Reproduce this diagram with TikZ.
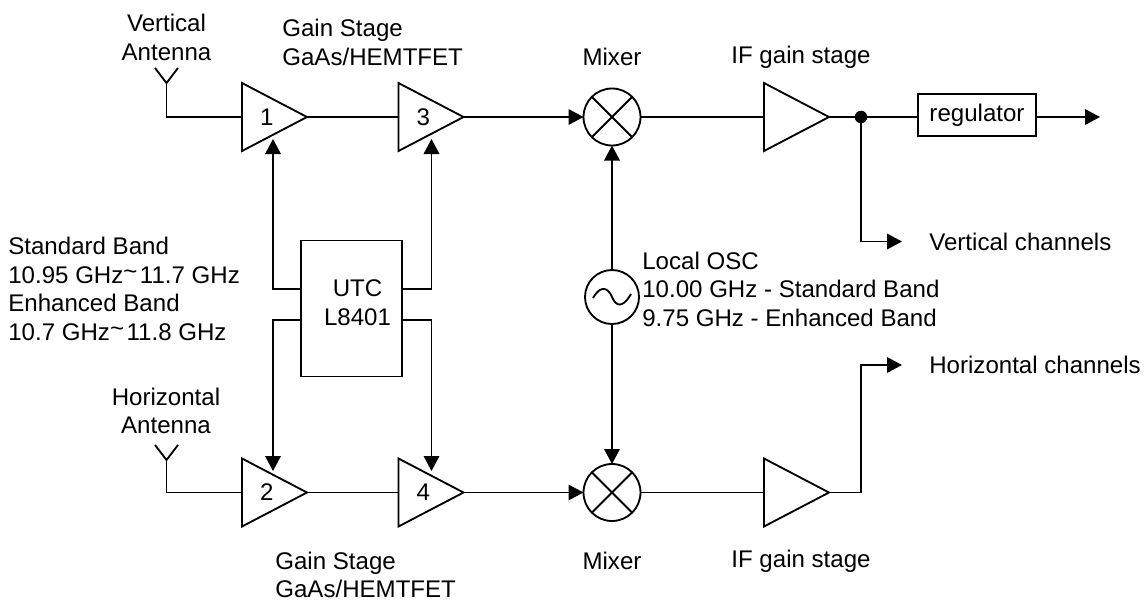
\documentclass[tikz,border=0pt]{standalone}
\usepackage{fontspec}
\setmainfont{Liberation Sans}
\usepackage{tikz}
\usetikzlibrary{arrows.meta, positioning, shapes.geometric, calc}
\newcommand{\bandtilde}{\raisebox{0.08cm}{\textasciitilde}\kern0.05cm}
\tikzset{
  wire/.style={line width=1.05pt,black},
  sigarrow/.style={wire,-{Triangle[length=3mm,width=3.1mm]}},
  lbltext/.style={inner sep=0pt,font=\fontsize{13.7}{16.2}\selectfont,align=left},
  ampnode/.style={draw,wire,isosceles triangle,isosceles triangle stretches,shape border rotate=0,minimum width=1.36cm,minimum height=1.30cm,inner sep=0pt,outer sep=0pt,anchor=lower side,font=\fontsize{13.7}{16.2}\selectfont},
  mixnode/.style={draw,wire,circle,minimum size=1.14cm,inner sep=0pt,outer sep=0pt,path picture={
    \draw[wire] (path picture bounding box.north west) -- (path picture bounding box.south east);
    \draw[wire] (path picture bounding box.north east) -- (path picture bounding box.south west);}},
  oscnode/.style={draw,wire,circle,minimum size=1.08cm,inner sep=0pt,outer sep=0pt,path picture={
    \draw[wire] (-0.38,-0.02) .. controls (-0.18,0.32) and (-0.04,0.10) .. (0,0) .. controls (0.06,-0.14) and (0.18,-0.28) .. (0.38,0.06);}},
  boxnode/.style={draw,wire,rectangle,inner sep=0pt,outer sep=0pt,font=\fontsize{13.7}{16.2}\selectfont,align=center},
  dotnode/.style={circle,fill=black,minimum size=0.25cm,inner sep=0pt,outer sep=0pt},
}
\begin{document}
\begin{tikzpicture}
  \useasboundingbox (0,0) rectangle (22.94,-12.06);
  % upper row
  \node[ampnode] (nAmpA) at (4.84,-2.34) {\hspace*{0.2cm}1};
  \node[ampnode] (nAmpC) at (7.97,-2.34) {\hspace*{0.2cm}3};
  \node[mixnode] (nMixV) at (12.24,-2.34) {};
  \node[ampnode] (nIfV) at (15.28,-2.34) {};
  \node[dotnode] (nDot) at (17.22,-2.34) {};
  \node[boxnode,minimum width=2.36cm,minimum height=0.84cm] (nReg) at (19.54,-2.30) {regulator};
  \coordinate (cOut) at (22.00,-2.34);
  \coordinate (cAntV) at (3.33,-1.66);
  % lower row
  \node[ampnode] (nAmpB) at (4.84,-9.85) {\hspace*{0.2cm}2};
  \node[ampnode] (nAmpD) at (7.97,-9.85) {\hspace*{0.2cm}4};
  \node[mixnode] (nMixH) at (12.24,-9.85) {};
  \node[ampnode] (nIfH) at (15.28,-9.85) {};
  \coordinate (cAntH) at (3.33,-9.20);
  % middle
  \node[boxnode,minimum width=2.03cm,minimum height=2.72cm] (nUTC) at (7.03,-6.17) {};
  \node[oscnode] (nOsc) at (12.24,-5.94) {};
  \coordinate (cTipA) at (5.46,-2.78);
  \coordinate (cTipC) at (8.63,-2.78);
  \coordinate (cTipB) at (5.46,-9.42);
  \coordinate (cTipD) at (8.63,-9.42);
  % texts
  \node[lbltext,align=center] (tUTC) at (7.15,-6.05) {UTC\\L8401};
  \node[lbltext,align=center] (tAntV) at (3.33,-0.75) {Vertical\\Antenna};
  \node[lbltext,align=center] (tAntH) at (3.32,-8.22) {Horizontal\\Antenna};
  \node[lbltext,anchor=west] (tGainV) at (5.64,-0.85) {Gain Stage\\GaAs/HEMTFET};
  \node[lbltext,anchor=west] (tGainH) at (5.50,-11.50) {Gain Stage\\GaAs/HEMTFET};
  \node[lbltext] (tMixV) at (12.24,-1.14) {Mixer};
  \node[lbltext] (tMixH) at (12.24,-11.22) {Mixer};
  \node[lbltext] (tIfV) at (16.02,-1.14) {IF gain stage};
  \node[lbltext] (tIfH) at (16.02,-11.22) {IF gain stage};
  \node[lbltext,anchor=west] (tOsc) at (12.84,-5.78) {Local OSC\\10.00 GHz - Standard Band\\9.75 GHz - Enhanced Band};
  \node[lbltext,anchor=west] (tBand) at (0.16,-5.78) {Standard Band\\10.95 GHz\bandtilde 11.7 GHz\\Enhanced Band\\10.7 GHz\bandtilde 11.8 GHz};
  \node[lbltext,anchor=west,inner xsep=0.54cm] (nVch) at (18.04,-4.83) {Vertical channels};
  \node[lbltext,anchor=west,inner xsep=0.54cm] (nHch) at (18.04,-7.30) {Horizontal channels};
  % connectors
  \draw[wire] (cAntV) |- (nAmpA.lower side);
  \draw[wire] ($(cAntV)+(-0.23,0.30)$) -- (cAntV) -- ($(cAntV)+(0.23,0.30)$);
  \draw[wire] (cAntH) |- (nAmpB.lower side);
  \draw[wire] ($(cAntH)+(-0.23,0.30)$) -- (cAntH) -- ($(cAntH)+(0.23,0.30)$);
  \draw[wire] (nAmpA.apex) -- (nAmpC.lower side);
  \draw[wire] (nAmpB.apex) -- (nAmpD.lower side);
  \draw[sigarrow] (nAmpC.apex) -- (nMixV);
  \draw[sigarrow] (nAmpD.apex) -- (nMixH);
  \draw[wire] (nMixV) -- (nIfV.lower side);
  \draw[wire] (nMixH) -- (nIfH.lower side);
  \draw[wire] (nIfV.apex) -- (nDot);
  \draw[wire] (nDot) -- (nDot -| nReg.west);
  \draw[sigarrow] (cOut -| nReg.east) -- (cOut);
  \draw[sigarrow] (nDot) |- (nVch.west);
  \draw[sigarrow] (nIfH.apex) -- ++(0.64,0) |- (nHch.west);
  \draw[sigarrow] (nOsc) -- (nMixV);
  \draw[sigarrow] (nOsc) -- (nMixH);
  \draw[sigarrow] ([yshift=0.39cm]nUTC.west) -| (cTipA);
  \draw[sigarrow] ([yshift=-0.23cm]nUTC.west) -| (cTipB);
  \draw[sigarrow] ([yshift=0.39cm]nUTC.east) -| (cTipC);
  \draw[sigarrow] ([yshift=-0.23cm]nUTC.east) -| (cTipD);
\end{tikzpicture}
\end{document}
